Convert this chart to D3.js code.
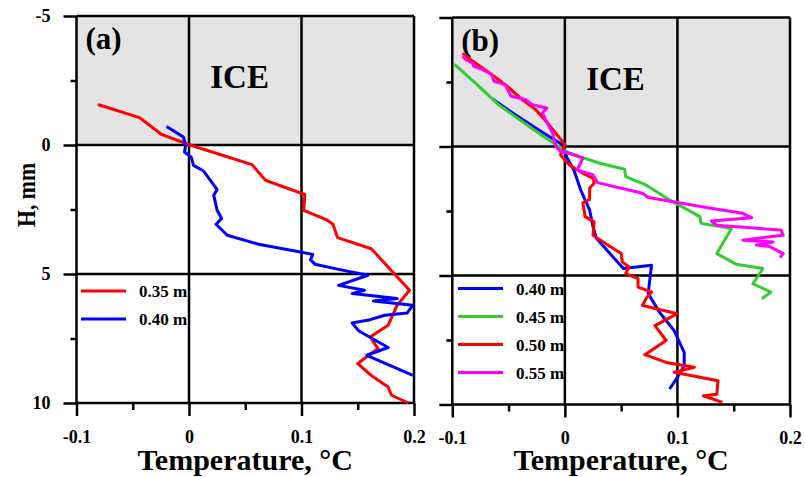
<!DOCTYPE html>
<html>
<head>
<meta charset="utf-8">
<script src="https://cdn.jsdelivr.net/npm/d3@7"></script>
<style>
    body { margin: 0; background: #fff; }
    svg text { font-family: "Liberation Serif", "Times New Roman", serif; font-weight: bold; fill: #000; }
</style>
</head>
<body>
<div id="chart"></div>
<script>
// Axis ticks
const xTicks = [-0.1, 0, 0.1, 0.2];
const xMinorTicks = [-0.05, 0.05, 0.15];
const yTicks = [-5, 0, 5, 10];
const yMinorTicks = [-2.5, 2.5, 7.5];

// Panel (a): [temperature °C, H mm]
const a035 = [[-0.081,-1.57],[-0.044,-1.06],[-0.024,-0.40],[0.001,0],[0.056,0.76],[0.068,1.37],[0.103,1.92],
    [0.102,2.53],[0.122,2.89],[0.128,3.07],[0.132,3.59],[0.162,4.02],[0.196,5.63],[0.185,6.21],[0.177,6.99],
    [0.161,7.44],[0.168,7.89],[0.150,8.47],[0.162,8.93],[0.177,9.38],[0.180,9.70],[0.195,10.0]];
const a040 = [[-0.020,-0.72],[-0.005,-0.31],[-0.003,0.01],[-0.004,0.27],[0.002,0.47],[0.004,0.79],[0.013,1.01],
    [0.025,1.73],[0.022,1.95],[0.025,2.53],[0.029,2.85],[0.024,3.07],[0.034,3.50],[0.063,3.86],[0.099,4.15],
    [0.110,4.24],[0.108,4.45],[0.112,4.62],[0.134,4.83],[0.159,5.05],[0.133,5.44],[0.156,5.63],[0.145,5.76],
    [0.185,5.95],[0.164,6.05],[0.199,6.21],[0.194,6.51],[0.174,6.60],[0.161,6.77],[0.145,6.90],[0.151,7.21],
    [0.177,7.85],[0.158,8.15],[0.199,8.93]];

// Panel (b)
const b040 = [[-0.065,-1.86],[-0.044,-1.23],[-0.026,-0.72],[-0.014,-0.39],[-0.002,-0.07],[0.002,0.45],[0.008,0.91],
    [0.014,1.68],[0.022,2.46],[0.025,3.11],[0.028,3.56],[0.052,4.73],[0.077,4.60],[0.074,5.70],[0.084,6.42],
    [0.097,7.13],[0.106,7.98],[0.106,8.49],[0.100,8.95],[0.093,9.40]];
const b045 = [[-0.098,-3.18],[-0.078,-2.40],[-0.059,-1.62],[-0.038,-0.97],[-0.017,-0.33],[-0.001,0.13],[0.004,0.26],
    [0.031,0.65],[0.053,0.88],[0.054,1.17],[0.072,1.49],[0.093,2.07],[0.120,2.72],[0.121,2.98],[0.148,3.18],
    [0.135,4.15],[0.152,4.56],[0.176,4.73],[0.167,5.32],[0.183,5.64],[0.175,5.90]];
const b050 = [[-0.091,-3.61],[-0.082,-3.31],[-0.065,-2.79],[-0.051,-2.33],[-0.038,-1.82],[-0.026,-1.43],[-0.014,-0.84],
    [-0.007,-0.46],[0.000,-0.07],[-0.002,0.17],[-0.004,0.32],[0.004,0.72],[0.016,1.04],[0.025,1.23],[0.026,1.42],
    [0.022,1.62],[0.022,2.05],[0.016,2.18],[0.018,2.72],[0.026,2.92],[0.025,3.44],[0.034,3.70],[0.050,4.15],
    [0.051,4.47],[0.057,4.67],[0.054,4.93],[0.065,5.12],[0.065,5.45],[0.077,5.64],[0.072,5.90],[0.069,6.16],
    [0.100,6.48],[0.080,6.94],[0.090,7.52],[0.071,8.07],[0.090,8.37],[0.115,8.56],[0.097,8.75],[0.136,9.08],
    [0.135,9.60],[0.123,9.66],[0.140,9.92]];
const b055 = [[-0.091,-3.50],[-0.088,-3.37],[-0.082,-3.24],[-0.081,-3.11],[-0.073,-2.98],[-0.065,-2.79],[-0.063,-2.53],
    [-0.053,-2.40],[-0.050,-2.14],[-0.048,-1.95],[-0.035,-1.82],[-0.029,-1.62],[-0.016,-1.49],[-0.020,-1.30],
    [-0.017,-1.04],[-0.011,-0.52],[-0.008,0.0],[-0.004,0.19],[0.004,0.26],[0.016,0.45],[0.011,0.91],[0.025,1.10],
    [0.029,1.40],[0.069,1.81],[0.074,1.98],[0.131,2.40],[0.158,2.59],[0.166,2.76],[0.130,2.89],[0.135,3.05],
    [0.192,3.24],[0.194,3.44],[0.182,3.50],[0.158,3.63],[0.185,3.70],[0.170,3.82],[0.182,3.88],[0.194,4.15],
    [0.191,4.30]];

const panels = [
    { id: "a", label: "(a)", left: 76.5, right: 414, top: 16, bottom: 403, yLabels: true,
      series: [ { name: "0.35 m", color: "#ff0000", data: a035 },
                { name: "0.40 m", color: "#0000ff", data: a040 } ],
      legend: { x: 81, y: 291 } },
    { id: "b", label: "(b)", left: 452.3, right: 790, top: 17.5, bottom: 404.5, yLabels: false,
      series: [ { name: "0.40 m", color: "#0000ff", data: b040 },
                { name: "0.45 m", color: "#33cc33", data: b045 },
                { name: "0.50 m", color: "#ff0000", data: b050 },
                { name: "0.55 m", color: "#ff00ff", data: b055 } ],
      legend: { x: 458, y: 288.5 } }
];

const svg = d3.select("#chart").append("svg")
    .attr("width", 805)
    .attr("height", 477);

const fmt = d => String(d);

panels.forEach(p => {
    const x = d3.scaleLinear().domain([-0.1, 0.2]).range([p.left, p.right]);
    const y = d3.scaleLinear().domain([-5, 10]).range([p.top, p.bottom]);
    const g = svg.append("g").attr("class", "panel-" + p.id);

    // ice region
    g.append("rect")
        .attr("x", x(-0.1)).attr("y", y(-5))
        .attr("width", x(0.2) - x(-0.1)).attr("height", y(0) - y(-5))
        .attr("fill", "#e4e4e4");

    // minor ticks
    g.append("g")
        .attr("transform", `translate(0,${y(10)})`)
        .call(d3.axisBottom(x).tickValues(xMinorTicks).tickSize(7).tickFormat(""))
        .call(s => s.select(".domain").remove())
        .selectAll("line").attr("stroke-width", 2.5);
    g.append("g")
        .attr("transform", `translate(${x(-0.1)},0)`)
        .call(d3.axisLeft(y).tickValues(yMinorTicks).tickSize(6).tickFormat(""))
        .call(s => s.select(".domain").remove())
        .selectAll("line").attr("stroke-width", 2.5);

    // major ticks + labels
    const xAxis = g.append("g")
        .attr("transform", `translate(0,${y(10)})`)
        .call(d3.axisBottom(x).tickValues(xTicks).tickSize(13).tickPadding(14).tickFormat(fmt))
        .call(s => s.select(".domain").remove());
    xAxis.selectAll("line").attr("stroke-width", 2.5);
    xAxis.selectAll("text").attr("font-size", 18).attr("font-family", null);

    const yAxis = g.append("g")
        .attr("transform", `translate(${x(-0.1)},0)`)
        .call(d3.axisLeft(y).tickValues(yTicks).tickSize(13).tickPadding(13)
            .tickFormat(p.yLabels ? fmt : ""))
        .call(s => s.select(".domain").remove());
    yAxis.selectAll("line").attr("stroke-width", 2.5);
    yAxis.selectAll("text").attr("font-size", 18).attr("font-family", null);

    // grid lines
    const grid = g.append("g").attr("stroke", "#000").attr("stroke-width", 2.5).attr("fill", "none");
    grid.selectAll(".vline").data(xTicks).join("line")
        .attr("x1", d => x(d)).attr("x2", d => x(d))
        .attr("y1", y(-5)).attr("y2", y(10));
    grid.selectAll(".hline").data(yTicks).join("line")
        .attr("x1", x(-0.1)).attr("x2", x(0.2))
        .attr("y1", d => y(d)).attr("y2", d => y(d));

    // labels
    g.append("text")
        .attr("x", x(-0.1) + 9).attr("y", y(-5) + 33)
        .attr("font-size", 31)
        .text(p.label);
    g.append("text")
        .attr("x", x(0.045)).attr("y", y(-2.2))
        .attr("text-anchor", "middle")
        .attr("font-size", 33)
        .text("ICE");

    // data lines
    const line = d3.line().x(d => x(d[0])).y(d => y(d[1]));
    g.selectAll(".series").data(p.series).join("path")
        .attr("class", "series")
        .attr("d", d => line(d.data))
        .attr("fill", "none")
        .attr("stroke", d => d.color)
        .attr("stroke-width", 3)
        .attr("stroke-linejoin", "round");

    // legend
    const leg = g.selectAll(".leg").data(p.series).join("g")
        .attr("class", "leg")
        .attr("transform", (d, i) => `translate(${p.legend.x},${p.legend.y + i * 28})`);
    leg.append("line")
        .attr("x1", 0).attr("x2", 45)
        .attr("stroke", d => d.color).attr("stroke-width", 3);
    leg.append("text")
        .attr("x", 58).attr("y", 6)
        .attr("font-size", 17)
        .text(d => d.name);

    // x axis title
    g.append("text")
        .attr("x", (p.left + p.right) / 2).attr("y", 470)
        .attr("text-anchor", "middle")
        .attr("font-size", 30)
        .text("Temperature, °C");
});

// y axis title
svg.append("text")
    .attr("transform", "translate(35,195) rotate(-90)")
    .attr("text-anchor", "middle")
    .attr("font-size", 26)
    .attr("textLength", 64)
    .attr("lengthAdjust", "spacingAndGlyphs")
    .text("H, mm");
</script>
</body>
</html>
